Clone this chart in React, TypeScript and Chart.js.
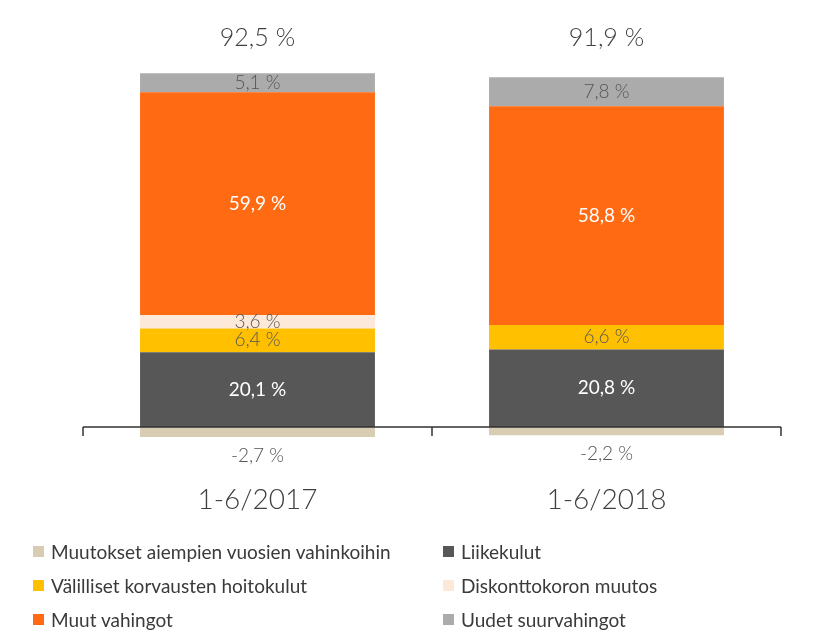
import React, { useEffect, useRef } from "react";
import { Chart, registerables } from "chart.js";

Chart.register(...registerables);

const categories = ["1-6/2017", "1-6/2018"];
const seriesNames = [
  "Muutokset aiempien vuosien vahinkoihin",
  "Liikekulut",
  "Välilliset korvausten hoitokulut",
  "Diskonttokoron muutos",
  "Muut vahingot",
  "Uudet suurvahingot",
];
const muutokset = [-2.7, -2.2];
const liikekulut = [20.1, 20.8];
const valilliset = [6.4, 6.6];
const diskontto = [3.6, 0];
const muutVahingot = [59.9, 58.8];
const uudet = [5.1, 7.8];
const totals = [92.5, 91.9];

const colors = ["#D8CDB2", "#575757", "#FFC000", "#FDE9DA", "#FF6A13", "#ABABAB"];
const labelColors = ["#555555", "#FFFFFF", "#555555", "#555555", "#FFFFFF", "#555555"];

const FONT = "Lato, 'Open Sans', sans-serif";
const fmt = (v: number) => v.toFixed(1).replace(".", ",") + " %";

const overlayPlugin = {
  id: "overlay",
  afterDatasetsDraw(chart: any) {
    const ctx = chart.ctx;
    const x = chart.scales.x;
    const y = chart.scales.y;
    const area = chart.chartArea;
    const zeroY = y.getPixelForValue(0);
    ctx.save();
    // axis line with ticks
    ctx.strokeStyle = "#333333";
    ctx.lineWidth = 1.5;
    ctx.beginPath();
    ctx.moveTo(area.left, zeroY);
    ctx.lineTo(area.right, zeroY);
    const n = categories.length;
    for (let i = 0; i <= n; i++) {
      const px = area.left + ((area.right - area.left) * i) / n;
      ctx.moveTo(px, zeroY);
      ctx.lineTo(px, zeroY + 9);
    }
    ctx.stroke();

    // value labels
    ctx.textAlign = "center";
    ctx.textBaseline = "middle";
    chart.data.datasets.forEach((ds: any, di: number) => {
      const meta = chart.getDatasetMeta(di);
      meta.data.forEach((el: any, i: number) => {
        const v = ds.data[i];
        if (!v) return;
        const white = labelColors[di] === "#FFFFFF";
        ctx.font = `${white ? 400 : 300} 19px ${FONT}`;
        let ly;
        if (v < 0) {
          ctx.fillStyle = "#555555";
          ly = Math.max(el.y, el.base) + 19;
        } else {
          ctx.fillStyle = labelColors[di];
          ly = (el.y + el.base) / 2;
        }
        ctx.fillText(fmt(v), el.x, ly);
      });
    });

    // totals
    ctx.fillStyle = "#404040";
    ctx.font = `300 25px ${FONT}`;
    categories.forEach((c, i) => {
      ctx.fillText(fmt(totals[i]), x.getPixelForValue(i), 38);
    });
    // category labels
    ctx.font = `300 28px ${FONT}`;
    categories.forEach((c, i) => {
      ctx.fillText(c, x.getPixelForValue(i), 500);
    });
    ctx.restore();
  },
};

export default function App() {
  const ref = useRef<HTMLCanvasElement>(null);
  useEffect(() => {
    const data = [muutokset, liikekulut, valilliset, diskontto, muutVahingot, uudet];
    const chart = new Chart(ref.current as HTMLCanvasElement, {
      type: "bar",
      data: {
        labels: categories,
        datasets: seriesNames.map((name, i) => ({
          label: name,
          data: data[i],
          backgroundColor: colors[i],
          borderWidth: 0,
          barPercentage: 0.673,
          categoryPercentage: 1,
        })),
      },
      options: {
        animation: false,
        responsive: false,
        maintainAspectRatio: false,
        layout: { padding: { left: 83, right: 38, top: 55, bottom: 200 } },
        plugins: { legend: { display: false }, tooltip: { enabled: false } },
        scales: {
          x: { display: false, stacked: true },
          y: { display: false, stacked: true, min: -3.5, max: 100 },
        },
      },
      plugins: [overlayPlugin],
    });
    return () => chart.destroy();
  }, []);

  const legendPos = [
    [0, 0],
    [1, 0],
    [0, 1],
    [1, 1],
    [0, 2],
    [1, 2],
  ];
  return (
    <div style={{ position: "fixed", left: 0, top: 0, width: 819, height: 640, background: "#fff" }}>
      <canvas ref={ref} width={819} height={640} style={{ position: "absolute", left: 0, top: 0 }} />
      {seriesNames.map((name, i) => {
        const [col, row] = legendPos[i];
        return (
          <div
            key={name}
            style={{
              position: "absolute",
              left: col === 0 ? 33 : 443,
              top: 551 + row * 34 - 12,
              height: 24,
              display: "flex",
              alignItems: "center",
              fontFamily: FONT,
              fontSize: 19,
              color: "#3a3a3a",
              whiteSpace: "nowrap",
            }}
          >
            <span style={{ display: "inline-block", width: 11, height: 11, background: colors[i], marginRight: 7 }} />
            {name}
          </div>
        );
      })}
    </div>
  );
}
